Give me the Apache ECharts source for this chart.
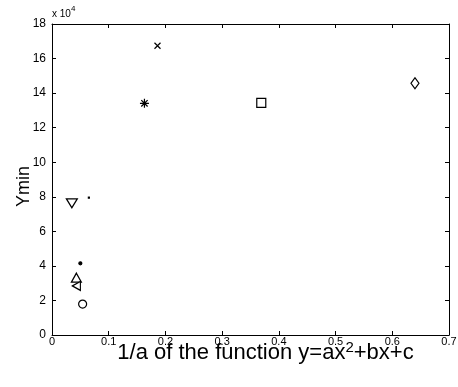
<!DOCTYPE html>
<html>
<head>
<meta charset="utf-8">
<script src="https://cdn.jsdelivr.net/npm/echarts@6/dist/echarts.min.js"></script>
<style>
  html, body { margin: 0; padding: 0; background: #fff; }
  #chart { width: 458px; height: 387px; }
</style>
</head>
<body>
<div id="chart"></div>
<script>
// 1/a values (x) and minimum Y values (in units of 10^4) for each case
const pointX = [0.035, 0.065, 0.050, 0.043, 0.043, 0.054, 0.163, 0.186, 0.369, 0.640];
const pointY = [7.62, 7.95, 4.15, 3.32, 2.84, 1.79, 13.41, 16.74, 13.44, 14.57];
const pointMarkers = ['triangleDown', 'speck', 'dot', 'triangleUp', 'triangleLeft',
                      'circle', 'star', 'cross', 'square', 'diamond'];

const xTicks = [0, 0.1, 0.2, 0.3, 0.4, 0.5, 0.6, 0.7];
const yTicks = [0, 2, 4, 6, 8, 10, 12, 14, 16, 18];

const FONT = '"Liberation Sans", Arial, sans-serif';

// marker appearance, MATLAB-style open symbols
const markerStyles = {
  triangleDown: { symbol: 'triangle', size: [11, 9], rotate: 180, fill: '#fff' },
  triangleUp:   { symbol: 'triangle', size: [10, 9], rotate: 0, fill: '#fff' },
  triangleLeft: { symbol: 'triangle', size: [9, 8], rotate: 90, fill: '#fff' },
  circle:       { symbol: 'circle', size: 8, rotate: 0, fill: '#fff' },
  square:       { symbol: 'rect', size: 9, rotate: 0, fill: '#fff' },
  diamond:      { symbol: 'diamond', size: [8, 11], rotate: 0, fill: '#fff' },
  dot:          { symbol: 'circle', size: 3, rotate: 0, fill: '#000' },
  speck:        { symbol: 'rect', size: 1, rotate: 0, fill: '#000' },
  cross:        { symbol: 'path://M0,0L10,10M10,0L0,10', size: 6, rotate: 0, fill: 'none' },
  star:         { symbol: 'path://M0,5L10,5M5,0L5,10M1.5,1.5L8.5,8.5M8.5,1.5L1.5,8.5', size: 9, rotate: 0, fill: 'none' }
};

const series = pointX.map((x, i) => {
  const m = markerStyles[pointMarkers[i]];
  return {
    type: 'scatter',
    name: pointMarkers[i],
    data: [[x, pointY[i]]],
    symbol: m.symbol,
    symbolSize: m.size,
    symbolRotate: m.rotate,
    itemStyle: { color: m.fill, borderColor: '#000', borderWidth: 1.2, opacity: 1 },
    emphasis: { disabled: true },
    z: 5
  };
});

const axisLine = { show: true, onZero: false, lineStyle: { color: '#000', width: 1 } };
const axisTick = { show: true, inside: true, length: 4, lineStyle: { color: '#000' } };

const chart = echarts.init(document.getElementById('chart'), null, { renderer: 'canvas' });
chart.setOption({
  backgroundColor: '#fff',
  animation: false,
  grid: { left: 52, right: 9, top: 24, bottom: 52, containLabel: false, outerBoundsMode: 'none' },
  xAxis: [{
    type: 'value',
    min: xTicks[0], max: xTicks[xTicks.length - 1], interval: 0.1,
    axisLine, axisTick,
    splitLine: { show: false },
    axisLabel: {
      color: '#000', fontFamily: FONT, fontSize: 11, margin: 1,
      formatter: v => (v === 0 ? '0' : String(+v.toFixed(1)))
    },
    name: '{a|1/a of the function y=ax}{s|2}{a|+bx+c}',
    nameLocation: 'middle',
    nameMoveOverlap: false,
    nameGap: 5,
    nameTextStyle: {
      padding: [0, 0, 0, 30],
      rich: {
        a: { fontFamily: FONT, fontSize: 22, color: '#000', lineHeight: 24, verticalAlign: 'bottom' },
        s: { fontFamily: FONT, fontSize: 15, color: '#000', lineHeight: 24, verticalAlign: 'top', padding: [0, 0, 8, 0] }
      }
    }
  }, {
    type: 'value', position: 'top',
    min: xTicks[0], max: xTicks[xTicks.length - 1], interval: 0.1,
    axisLine, axisTick, axisLabel: { show: false }, splitLine: { show: false }
  }],
  yAxis: [{
    type: 'value',
    min: yTicks[0], max: yTicks[yTicks.length - 1], interval: 2,
    axisLine, axisTick,
    splitLine: { show: false },
    axisLabel: { color: '#000', fontFamily: FONT, fontSize: 12, margin: 6 },
    name: 'Ymin',
    nameLocation: 'middle',
    nameMoveOverlap: false,
    nameGap: 19,
    nameTextStyle: { fontFamily: FONT, fontSize: 18, color: '#000', padding: [0, 14, 0, 0] }
  }, {
    type: 'value', position: 'right',
    min: yTicks[0], max: yTicks[yTicks.length - 1], interval: 2,
    axisLine, axisTick, axisLabel: { show: false }, splitLine: { show: false }
  }],
  graphic: [{
    type: 'text',
    left: 52, top: 5,
    style: {
      text: '{b|x 10}{e|4}',
      rich: {
        b: { fontFamily: FONT, fontSize: 10, fill: '#000', lineHeight: 14, verticalAlign: 'bottom' },
        e: { fontFamily: FONT, fontSize: 8, fill: '#000', lineHeight: 14, verticalAlign: 'top' }
      }
    }
  }],
  series
});
</script>
</body>
</html>
